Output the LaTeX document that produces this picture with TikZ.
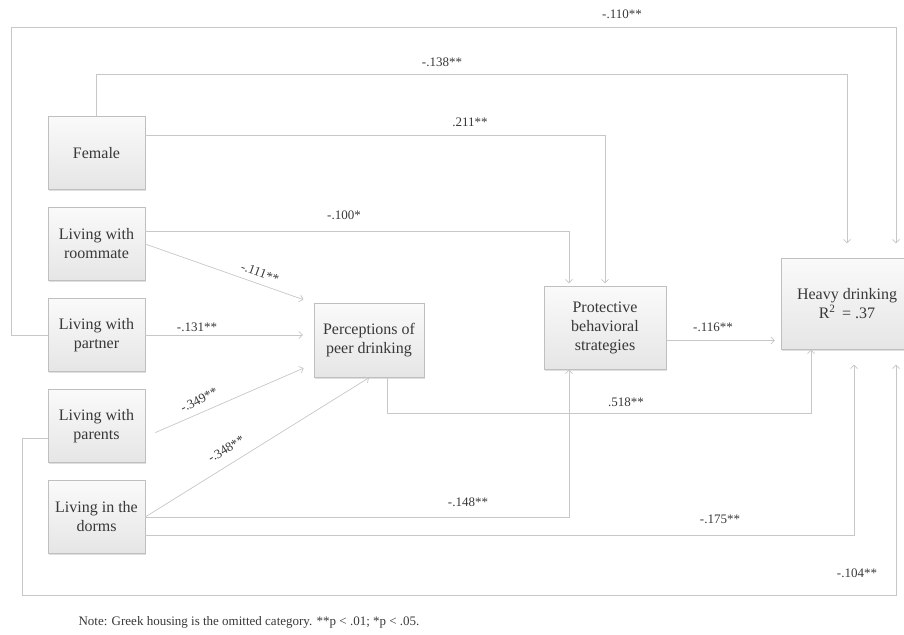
\documentclass[tikz,border=0pt]{standalone}
\usepackage{fontspec}
\setmainfont{Liberation Serif}
\usetikzlibrary{arrows.meta,shadows,calc}
\definecolor{linegray}{rgb}{0.78,0.78,0.78}
\definecolor{textgray}{rgb}{0.22,0.22,0.22}
\tikzstyle{var} = [rectangle, minimum width=97pt, minimum height=73pt, text centered, align=center, draw=gray!50, top color=gray!4, bottom color=gray!20, drop shadow={shadow xshift=1pt,shadow yshift=-1pt,opacity=0.25}, text=textgray, font=\fontsize{16}{19}\selectfont]
\tikzstyle{arrow} = [draw=linegray, line width=0.7pt, ->, >={Straight Barb[length=3.5pt,width=7pt]}]
\tikzstyle{coef} = [text=textgray, font=\fontsize{13}{15}\selectfont]

\begin{document}
\begin{tikzpicture}[x=1pt, y=1pt, node distance=91pt]
\useasboundingbox (0,0) rectangle (904,-634);
\node (female) [var] at (96.5,-153) {Female};
\node (roommate) [var, below of=female] {Living with\\roommate};
\node (partner) [var, below of=roommate] {Living with\\partner};
\node (parents) [var, below of=partner] {Living with\\parents};
\node (dorms) [var, below of=parents] {Living in the\\dorms};
\node (percep) [var, right of=partner, xshift=181.5pt, yshift=-5.5pt, minimum width=110pt, minimum height=74pt] {Perceptions of\\peer drinking};
\node (protect) [var, right of=percep, xshift=145pt, yshift=12.5pt, minimum width=122pt, minimum height=83pt] {Protective\\behavioral\\strategies};
\node (heavy) [var, right of=protect, xshift=151pt, yshift=24pt, minimum width=132pt, minimum height=91pt] {Heavy drinking\\R\textsuperscript{2} \,= .37};
% direct paths to heavy drinking
\draw [arrow, shorten >=15pt] (partner.west) -- ++(-36,0) -- ++(0,308) -| ([xshift=49pt]heavy.north);
\draw [arrow, shorten >=15pt] (female.north) -- ++(0,42) -| (heavy.north);
\draw [arrow, shorten >=15pt] ([yshift=-12pt]parents.west) -- ++(-25,0) -- ++(0,-157) -| ([xshift=49pt]heavy.south);
\draw [arrow, shorten >=15pt] ([yshift=-18pt]dorms.east) -| ([xshift=7pt]heavy.south);
\draw [arrow] ([xshift=18pt]percep.south) -- ++(0,-36) -| ([xshift=-36pt]heavy.south);
\draw [arrow, shorten >=6pt] ([yshift=-12.5pt]protect.east) -- ([yshift=-12.5pt]protect.east -| heavy.west);
% paths to protective strategies
\draw [arrow, shorten >=3pt] ([yshift=18pt]female.east) -| (protect.north);
\draw [arrow, shorten >=3pt] ([yshift=12.5pt]roommate.east) -| ([xshift=-36pt]protect.north);
\draw [arrow] (dorms.east) -| ([xshift=-36pt]protect.south);
% paths to perceptions
\draw [arrow, shorten >=11pt] (roommate.east) -- (percep.north west);
\draw [arrow, shorten >=11pt] (partner.east) -- (partner.east -| percep.west);
\draw [arrow, shorten <=11pt, shorten >=11pt] ([yshift=-11pt]parents.east) -- ([yshift=14pt]percep.south west);
\draw [arrow] (dorms.east) -- (percep.south);
% coefficients
\node (l110) [coef] at (622,-14) {-.110**};
\node (l138) [coef] at (442,-62) {-.138**};
\node (l211) [coef] at (470,-122) {.211**};
\node (l100) [coef] at (344,-215) {-.100*};
\node (l111) [coef, rotate=-20] at (260,-273) {-.111**};
\node (l131) [coef] at (197,-327) {-.131**};
\node (l349) [coef, rotate=27] at (199,-400) {-.349**};
\node (l348) [coef, rotate=31] at (226,-449) {-.348**};
\node (l116) [coef] at (713,-327) {-.116**};
\node (l518) [coef] at (626,-402) {.518**};
\node (l148) [coef] at (468,-502) {-.148**};
\node (l175) [coef] at (720,-519) {-.175**};
\node (l104) [coef] at (857,-573) {-.104**};
\node (note) [coef, anchor=west] at (75,-622) {Note: Greek housing is the omitted category. **p < .01; *p < .05.};
\end{tikzpicture}
\end{document}
